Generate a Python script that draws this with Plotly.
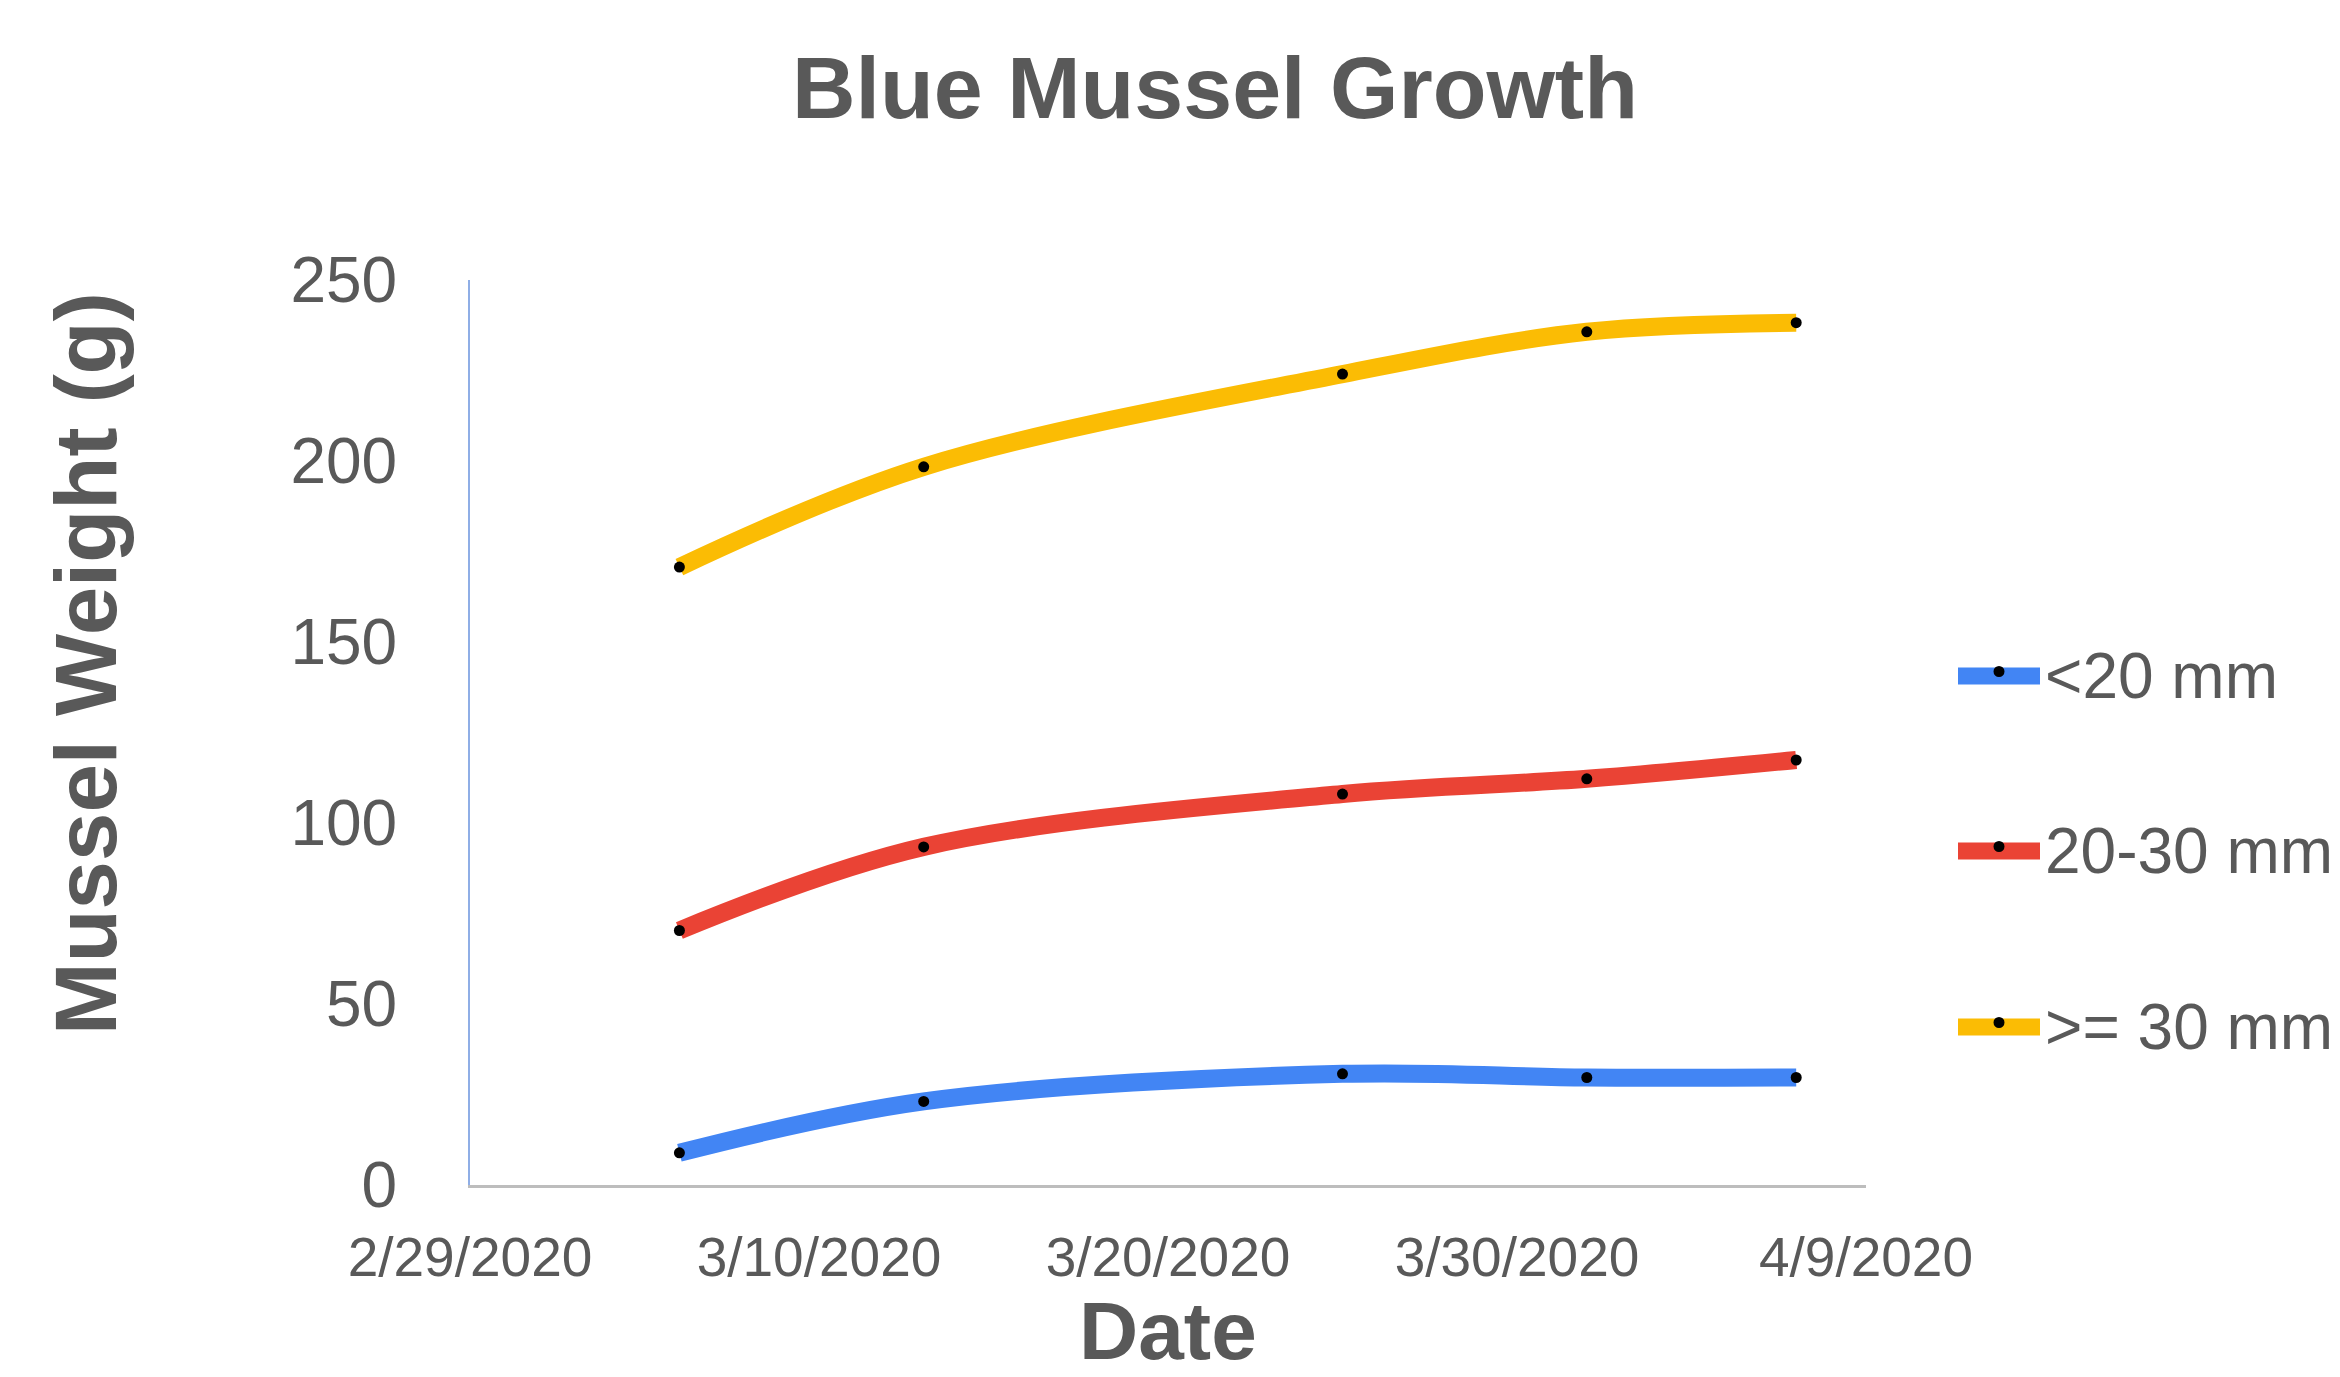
import plotly.graph_objects as go

# Sampling dates and mean mussel weight (g) per size class
dates = ["2020-03-06", "2020-03-13", "2020-03-25", "2020-04-01", "2020-04-07"]
small_weights = [8.9, 23.1, 30.7, 29.7, 29.7]
medium_weights = [70.3, 93.4, 108.0, 112.2, 117.4]
large_weights = [170.7, 198.4, 224.0, 235.7, 238.2]

series_names = ["<20 mm", "20-30 mm", ">= 30 mm"]
series_values = [small_weights, medium_weights, large_weights]
series_colors = ["#4285F4", "#EA4335", "#FBBC04"]

y_ticks = [0, 50, 100, 150, 200, 250]

FONT = "Liberation Sans, Arial, sans-serif"
TEXT = "#595959"

W, H = 2340, 1377
L, R, T, B = 470, 474, 280, 192
PW, PH = W - L - R, H - T - B


def px_to_paper(px, py):
    return (px - L) / PW, (H - B - py) / PH


fig = go.Figure()
for name, vals, color in zip(series_names, series_values, series_colors):
    fig.add_trace(go.Scatter(
        x=dates, y=vals, name=name, mode="lines+markers",
        line=dict(color=color, width=18, shape="spline", smoothing=1),
        marker=dict(color="black", size=11),
        showlegend=False,
    ))

# Legend drawn beside the plot: thick swatch with a centre dot, then the label
shapes = []
annotations = []
legend_rows_px = [676, 851, 1027]
for name, color, row in zip(series_names, series_colors, legend_rows_px):
    xa, ya = px_to_paper(1999, row)
    shapes.append(dict(type="line", xref="paper", yref="paper",
                       xsizemode="pixel", ysizemode="pixel", xanchor=xa, yanchor=ya,
                       x0=-41, x1=41, y0=0, y1=0,
                       line=dict(color=color, width=17)))
    shapes.append(dict(type="circle", xref="paper", yref="paper",
                       xsizemode="pixel", ysizemode="pixel", xanchor=xa, yanchor=ya,
                       x0=-5.5, x1=5.5, y0=-1, y1=10,
                       fillcolor="black", line=dict(width=0)))
    tx, ty = px_to_paper(2043, row)
    annotations.append(dict(text=name, xref="paper", yref="paper", x=tx, y=ty,
                            xanchor="left", yanchor="middle", showarrow=False,
                            font=dict(family=FONT, size=64, color=TEXT)))

yx, yy = px_to_paper(85, 664)
annotations.append(dict(text="<b>Mussel Weight (g)</b>", xref="paper", yref="paper",
                        x=yx, y=yy, xanchor="center", yanchor="middle", textangle=-90,
                        showarrow=False, font=dict(family=FONT, size=87, color=TEXT)))
dx, dy = px_to_paper(1168, 1330)
annotations.append(dict(text="<b>Date</b>", xref="paper", yref="paper",
                        x=dx, y=dy, xanchor="center", yanchor="middle",
                        showarrow=False, font=dict(family=FONT, size=82, color=TEXT)))

fig.update_layout(
    width=W, height=H,
    margin=dict(l=L, r=R, t=T, b=B),
    paper_bgcolor="white", plot_bgcolor="white",
    title=dict(text="<b>Blue Mussel Growth</b>", x=1215 / W, y=1 - 87 / H,
               xanchor="center", yanchor="middle", xref="container", yref="container",
               font=dict(family=FONT, size=88, color=TEXT)),
    shapes=shapes,
    annotations=annotations,
    xaxis=dict(
        type="date", range=["2020-02-29", "2020-04-09"],
        tick0="2020-02-29", dtick=10 * 24 * 3600 * 1000, tickformat="%-m/%-d/%Y",
        showgrid=False, zeroline=False,
        showline=True, linecolor="#BDBDBD", linewidth=3,
        ticks="", ticklabelstandoff=22,
        tickfont=dict(family=FONT, size=55, color=TEXT),
    ),
    yaxis=dict(
        range=[0, 250], tickvals=y_ticks,
        showgrid=False, zeroline=False,
        showline=True, linecolor="#8FAEE6", linewidth=2,
        ticks="", ticklabelstandoff=58,
        tickfont=dict(family=FONT, size=64, color=TEXT),
    ),
)

fig.write_html("out.html")
